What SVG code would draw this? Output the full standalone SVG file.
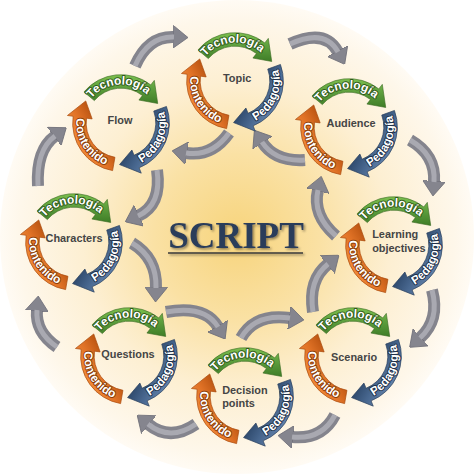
<svg xmlns="http://www.w3.org/2000/svg" xmlns:xlink="http://www.w3.org/1999/xlink" width="474" height="474" viewBox="0 0 474 474">
<defs>
<radialGradient id="bg" cx="237" cy="237" r="237" gradientUnits="userSpaceOnUse">
<stop offset="0" stop-color="#f7d47c"/>
<stop offset="0.35" stop-color="#fae1a4"/>
<stop offset="0.65" stop-color="#fdefd2"/>
<stop offset="0.92" stop-color="#fef7ea"/>
<stop offset="1" stop-color="#fffbf4"/>
</radialGradient>
<linearGradient id="grG" x1="0" y1="0" x2="0" y2="1">
<stop offset="0" stop-color="#7cbf4e"/><stop offset="0.5" stop-color="#5c9d3c"/><stop offset="1" stop-color="#3f7d27"/>
</linearGradient>
<linearGradient id="grB" x1="0" y1="0" x2="0" y2="1">
<stop offset="0" stop-color="#6281a8"/><stop offset="0.5" stop-color="#48678f"/><stop offset="1" stop-color="#2f4a6d"/>
</linearGradient>
<linearGradient id="grO" x1="0" y1="0" x2="0" y2="1">
<stop offset="0" stop-color="#f08a3a"/><stop offset="0.5" stop-color="#e07226"/><stop offset="1" stop-color="#bb5512"/>
</linearGradient>
<filter id="sh" x="-10%" y="-20%" width="130%" height="150%">
<feDropShadow dx="1.5" dy="1.5" stdDeviation="0.8" flood-color="#000" flood-opacity="0.45"/>
</filter>
<marker id="gh" markerUnits="userSpaceOnUse" markerWidth="15" markerHeight="23" viewBox="0 0 15 23" refX="1" refY="11.5" orient="auto">
<path d="M0 0 L15 11.5 L0 23 Z" fill="#85858e" stroke="#6e6e78" stroke-width="0.8"/>
</marker>
<path id="arc" d="M -35.62 -29.89 A 46.5 46.5 0 0 1 28.63 -36.64 L 32.02 -40.98 L 35.32 -18.78 L 17.24 -22.06 L 20.63 -26.40 A 33.5 33.5 0 0 0 -25.66 -21.53 Z"/>
<path id="tpT" d="M -33.26 -16.22 A 37 37 0 0 1 30.67 -20.69" fill="none"/>
<path id="tpP" d="M 2.25 42.94 A 43 43 0 0 0 33.42 -27.06" fill="none"/>
<path id="tpC" d="M -37.97 -20.19 A 43 43 0 0 0 1.50 42.97" fill="none"/>
</defs>
<style>
.ag{fill:url(#grG);stroke:#3a6b22;stroke-width:0.6}
.ab{fill:url(#grB);stroke:#2a3f5c;stroke-width:0.6}
.ao{fill:url(#grO);stroke:#a84a0c;stroke-width:0.6}
.t{font-family:"Liberation Sans",Arial,sans-serif;font-weight:bold;font-size:11.5px;fill:#ffffff;stroke-width:1.8px;paint-order:stroke;stroke-linejoin:round}
.tg{stroke:#2f5a1a}
.tb{stroke:#1e3048}
.to{stroke:#8a3c08}
.nl{font-family:"Liberation Sans",Arial,sans-serif;font-weight:bold;font-size:10.5px;fill:#454545}
.gb{fill:none;stroke:#84848d;stroke-width:12;marker-end:url(#gh)}
.gl{fill:none;stroke:#a9a9b1;stroke-width:5}
.cy{transform-box:view-box}
</style>
<rect width="474" height="474" fill="#ffffff"/>
<circle cx="237" cy="237" r="237" fill="url(#bg)"/>
<g id="script" filter="url(#sh)">
<text x="236" y="248" text-anchor="middle" font-family="'Liberation Serif',serif" font-weight="bold" font-size="37" fill="#2c3c5a">SCRIPT</text>
<line x1="168" y1="253" x2="303" y2="253" stroke="#3a3a3a" stroke-width="1.6"/>
</g>
<g id="connectors">
<path class="gb" d="M 135 66 Q 148 36 174 37"/><path class="gl" d="M 135 66 Q 148 36 174 37"/>
<path class="gb" d="M 290 44 Q 325 28 338 52"/><path class="gl" d="M 290 44 Q 325 28 338 52"/>
<path class="gb" d="M 410 140 Q 436 155 434 182"/><path class="gl" d="M 410 140 Q 436 155 434 182"/>
<path class="gb" d="M 432 290 Q 440 320 420 338"/><path class="gl" d="M 432 290 Q 440 320 420 338"/>
<path class="gb" d="M 335 415 Q 322 440 292 437"/><path class="gl" d="M 335 415 Q 322 440 292 437"/>
<path class="gb" d="M 196 424 Q 170 442 148 424"/><path class="gl" d="M 196 424 Q 170 442 148 424"/>
<path class="gb" d="M 57 347 Q 35 332 37 310"/><path class="gl" d="M 57 347 Q 35 332 37 310"/>
<path class="gb" d="M 38 186 Q 36 150 55 136"/><path class="gl" d="M 38 186 Q 36 150 55 136"/>
<path class="gb" d="M 229 133 Q 212 157 186 153"/><path class="gl" d="M 229 133 Q 212 157 186 153"/>
<path class="gb" d="M 305 160 Q 275 162 262 142"/><path class="gl" d="M 305 160 Q 275 162 262 142"/>
<path class="gb" d="M 336 236 Q 312 215 318 190"/><path class="gl" d="M 336 236 Q 312 215 318 190"/>
<path class="gb" d="M 313 312 Q 308 280 328 264"/><path class="gl" d="M 313 312 Q 308 280 328 264"/>
<path class="gb" d="M 241 338 Q 255 313 290 318"/><path class="gl" d="M 241 338 Q 255 313 290 318"/>
<path class="gb" d="M 166 312 Q 205 305 218 327"/><path class="gl" d="M 166 312 Q 205 305 218 327"/>
<path class="gb" d="M 132 243 Q 157 258 156 288"/><path class="gl" d="M 132 243 Q 157 258 156 288"/>
<path class="gb" d="M 157 170 Q 162 205 138 216"/><path class="gl" d="M 157 170 Q 162 205 138 216"/>
</g>
<g id="n-topic" transform="translate(235,81) scale(1.04)">
<use href="#arc" class="ag"/><use href="#arc" class="ab" transform="rotate(120)"/><use href="#arc" class="ao" transform="rotate(240)"/>
<text class="t tg"><textPath href="#tpT" startOffset="50%" text-anchor="middle">Tecnología</textPath></text>
<text class="t tb"><textPath href="#tpP" startOffset="50%" text-anchor="middle">Pedagogía</textPath></text>
<text class="t to"><textPath href="#tpC" startOffset="50%" text-anchor="middle">Contenido</textPath></text>
<text class="nl" x="2" y="1" text-anchor="middle">Topic</text>
</g>
<g id="n-flow" transform="translate(121,123) scale(1.04)">
<use href="#arc" class="ag"/><use href="#arc" class="ab" transform="rotate(120)"/><use href="#arc" class="ao" transform="rotate(240)"/>
<text class="t tg"><textPath href="#tpT" startOffset="50%" text-anchor="middle">Tecnología</textPath></text>
<text class="t tb"><textPath href="#tpP" startOffset="50%" text-anchor="middle">Pedagogía</textPath></text>
<text class="t to"><textPath href="#tpC" startOffset="50%" text-anchor="middle">Contenido</textPath></text>
<text class="nl" x="-1" y="1" text-anchor="middle">Flow</text>
</g>
<g id="n-audience" transform="translate(349,127) scale(1.04)">
<use href="#arc" class="ag"/><use href="#arc" class="ab" transform="rotate(120)"/><use href="#arc" class="ao" transform="rotate(240)"/>
<text class="t tg"><textPath href="#tpT" startOffset="50%" text-anchor="middle">Tecnología</textPath></text>
<text class="t tb"><textPath href="#tpP" startOffset="50%" text-anchor="middle">Pedagogía</textPath></text>
<text class="t to"><textPath href="#tpC" startOffset="50%" text-anchor="middle">Contenido</textPath></text>
<text class="nl" x="2" y="0" text-anchor="middle">Audience</text>
</g>
<g id="n-characters" transform="translate(74,242) scale(1.04)">
<use href="#arc" class="ag"/><use href="#arc" class="ab" transform="rotate(120)"/><use href="#arc" class="ao" transform="rotate(240)"/>
<text class="t tg"><textPath href="#tpT" startOffset="50%" text-anchor="middle">Tecnología</textPath></text>
<text class="t tb"><textPath href="#tpP" startOffset="50%" text-anchor="middle">Pedagogía</textPath></text>
<text class="t to"><textPath href="#tpC" startOffset="50%" text-anchor="middle">Contenido</textPath></text>
<text class="nl" x="0" y="0" text-anchor="middle">Characters</text>
</g>
<g id="n-learning" transform="translate(394,245) scale(1.04)">
<use href="#arc" class="ag"/><use href="#arc" class="ab" transform="rotate(120)"/><use href="#arc" class="ao" transform="rotate(240)"/>
<text class="t tg"><textPath href="#tpT" startOffset="50%" text-anchor="middle">Tecnología</textPath></text>
<text class="t tb"><textPath href="#tpP" startOffset="50%" text-anchor="middle">Pedagogía</textPath></text>
<text class="t to"><textPath href="#tpC" startOffset="50%" text-anchor="middle">Contenido</textPath></text>
<text class="nl"><tspan x="-21" y="-7">Learning</tspan><tspan x="-21" y="7">objectives</tspan></text>
</g>
<g id="n-questions" transform="translate(129,356) scale(1.04)">
<use href="#arc" class="ag"/><use href="#arc" class="ab" transform="rotate(120)"/><use href="#arc" class="ao" transform="rotate(240)"/>
<text class="t tg"><textPath href="#tpT" startOffset="50%" text-anchor="middle">Tecnología</textPath></text>
<text class="t tb"><textPath href="#tpP" startOffset="50%" text-anchor="middle">Pedagogía</textPath></text>
<text class="t to"><textPath href="#tpC" startOffset="50%" text-anchor="middle">Contenido</textPath></text>
<text class="nl" x="-1" y="2" text-anchor="middle">Questions</text>
</g>
<g id="n-decision" transform="translate(245,396) scale(1.04)">
<use href="#arc" class="ag"/><use href="#arc" class="ab" transform="rotate(120)"/><use href="#arc" class="ao" transform="rotate(240)"/>
<text class="t tg"><textPath href="#tpT" startOffset="50%" text-anchor="middle">Tecnología</textPath></text>
<text class="t tb"><textPath href="#tpP" startOffset="50%" text-anchor="middle">Pedagogía</textPath></text>
<text class="t to"><textPath href="#tpC" startOffset="50%" text-anchor="middle">Contenido</textPath></text>
<text class="nl"><tspan x="-22" y="-2">Decision</tspan><tspan x="-22" y="11">points</tspan></text>
</g>
<g id="n-scenario" transform="translate(353,356) scale(1.04)">
<use href="#arc" class="ag"/><use href="#arc" class="ab" transform="rotate(120)"/><use href="#arc" class="ao" transform="rotate(240)"/>
<text class="t tg"><textPath href="#tpT" startOffset="50%" text-anchor="middle">Tecnología</textPath></text>
<text class="t tb"><textPath href="#tpP" startOffset="50%" text-anchor="middle">Pedagogía</textPath></text>
<text class="t to"><textPath href="#tpC" startOffset="50%" text-anchor="middle">Contenido</textPath></text>
<text class="nl" x="1" y="5" text-anchor="middle">Scenario</text>
</g>
</svg>
